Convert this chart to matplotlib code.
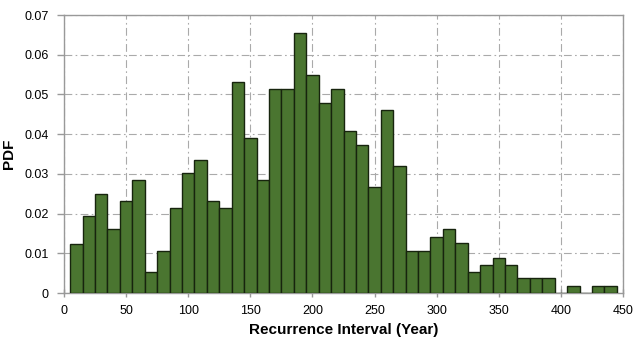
import matplotlib
matplotlib.use('Agg')
import matplotlib.pyplot as plt

# histogram bins (year), 10-year wide, centred on 10, 20, ..., 440
bin_centers = list(range(10, 450, 10))
pdf_values = [0.0123, 0.0195, 0.0249, 0.0160, 0.0231, 0.0284, 0.0053, 0.0107,
              0.0213, 0.0301, 0.0336, 0.0231, 0.0213, 0.0531, 0.0390, 0.0284,
              0.0513, 0.0513, 0.0654, 0.0548, 0.0478, 0.0513, 0.0407, 0.0372,
              0.0266, 0.0460, 0.0319, 0.0107, 0.0107, 0.0141, 0.0160, 0.0125,
              0.0054, 0.0071, 0.0089, 0.0071, 0.0037, 0.0037, 0.0037, 0.0,
              0.0018, 0.0, 0.0018, 0.0018]

plt.rcParams['font.family'] = ['Liberation Sans', 'DejaVu Sans']

fig = plt.figure(figsize=(6.33, 3.43), dpi=100)
ax = fig.add_axes([64 / 633, 1 - 293 / 343, (623 - 64) / 633, (293 - 15) / 343])

ax.bar(bin_centers, pdf_values, width=10, color='#4a7530', edgecolor='#17240e',
       linewidth=1.0, zorder=3)

ax.set_xlim(0, 450)
ax.set_ylim(0, 0.07)
ax.set_xticks(range(0, 451, 50))
ax.set_yticks([0, 0.01, 0.02, 0.03, 0.04, 0.05, 0.06, 0.07])
ax.set_yticklabels(['0', '0.01', '0.02', '0.03', '0.04', '0.05', '0.06', '0.07'])

ax.grid(True, color='#aaaaaa', linestyle=(0, (7, 3, 1.5, 3)), linewidth=0.8, zorder=0)
for s in ax.spines.values():
    s.set_color('#999999')
    s.set_linewidth(1.0)
ax.tick_params(axis='both', labelsize=9, colors='#999999', labelcolor='black',
               length=5, width=1.0)
ax.tick_params(axis='x', direction='inout', length=6, pad=6)
ax.tick_params(axis='y', pad=6)

ax.set_xlabel('Recurrence Interval (Year)', fontsize=11, fontweight='bold', labelpad=4)
ax.set_ylabel('PDF', fontsize=11, fontweight='bold', labelpad=6)

fig.savefig('out.png', dpi=100)
